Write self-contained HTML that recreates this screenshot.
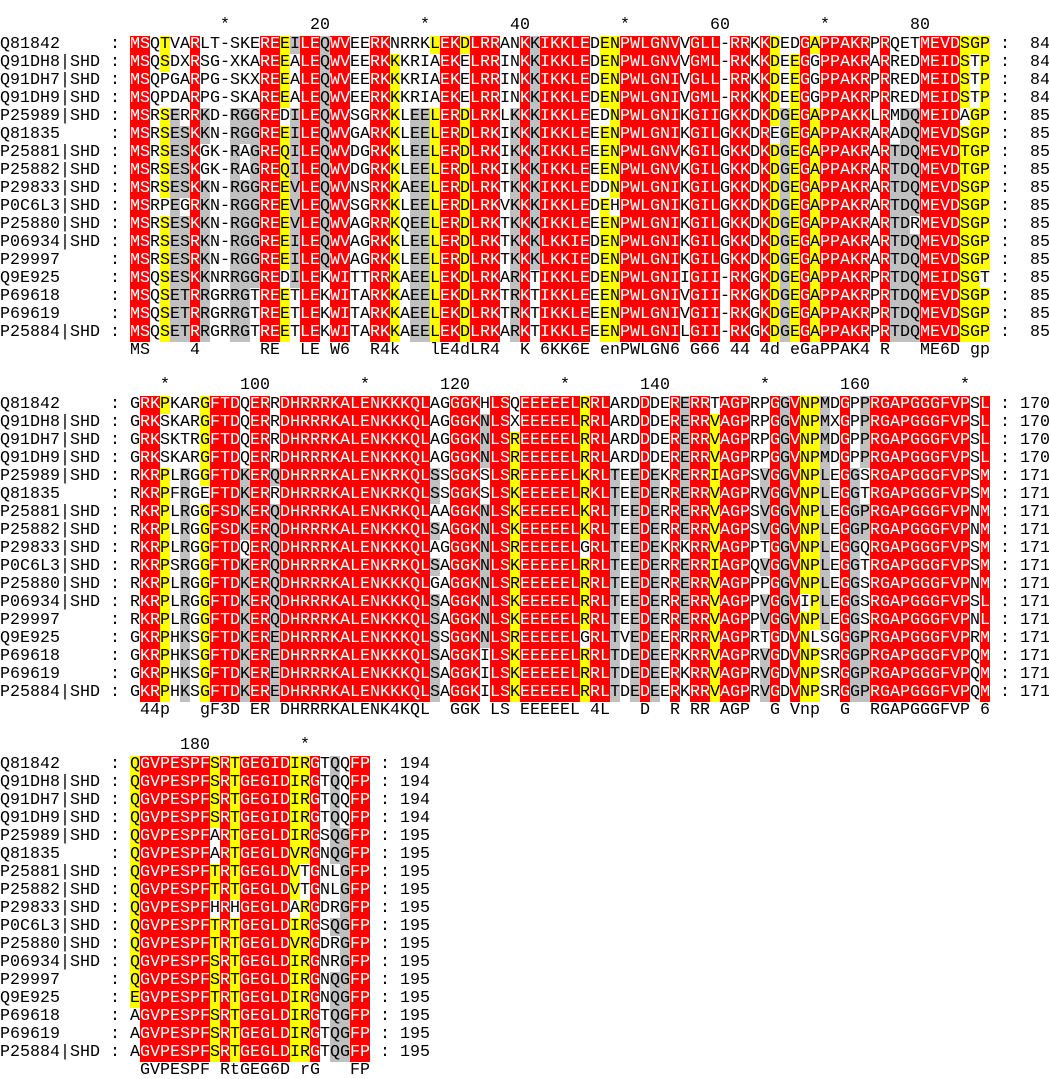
<!DOCTYPE html>
<html><head><meta charset="utf-8">
<style>
html,body{margin:0;padding:0;background:#fff;}
#c{position:relative;width:1049px;height:1079px;overflow:hidden;font-family:"Liberation Mono","DejaVu Sans Mono",monospace;font-size:16.67px;color:#000;}
#c div{position:absolute;height:18px;line-height:18px;white-space:pre;}
.r{background:#ff0000;color:#fff;}
.y{background:#ffff00;}
.g{background:#c0c0c0;}
</style></head><body><div id="c"></div>
<script>
var names=["Q81842","Q91DH8|SHD","Q91DH7|SHD","Q91DH9|SHD","P25989|SHD","Q81835","P25881|SHD","P25882|SHD","P29833|SHD","P0C6L3|SHD","P25880|SHD","P06934|SHD","P29997","Q9E925","P69618","P69619","P25884|SHD"];
var B1=[
"MSQTVARLT-SKEREEILEQWVEERKNRR"+"KLEKDLRRANKKIKKLEDENPWLGNVVGLL-R"+"RKKDEDGAPPAKRPRQETMEVDSGP",
"MSQSDXRSG-XKAREEALEQWVEERKKKR"+"IAEKELRRINKKIKKLEDENPWLGNVVGML-R"+"KKKDEEGGPPAKRARREDMEIDSTP",
"MSQPGARPG-SKXREEALEQWVEERKKKR"+"IAEKELRRINKKIKKLEDENPWLGNIVGLL-R"+"RKKDEEGGPPAKRPRREDMEIDSTP",
"MSQPDARPG-SKAREEALEQWVEERKKKR"+"IAEKELRRINKKIKKLEDENPWLGNIVGML-R"+"KKKDEEGGPPAKRPRREDMEIDSTP",
"MSRSERRKD-RGGREDILEQWVSGRKKLE"+"ELERDLRKLKKKIKKLEEDNPWLGNIKGIIGK"+"KDKDGEGAPPAKKLRMDQMEIDAGP",
"MSRSESKKN-RGGREEILEQWVGARKKLE"+"ELERDLRKIKKKIKKLEEENPWLGNIKGILGK"+"KDREGEGAPPAKRARADQMEVDSGP",
"MSRSESKGK-RAGREQILEQWVDGRKKLE"+"ELERDLRKIKKKIKKLEEENPWLGNVKGILGK"+"KDKDGEGAPPAKRARTDQMEVDTGP",
"MSRSESKGK-RAGREQILEQWVDGRKKLE"+"ELERDLRKIKKKIKKLEEENPWLGNVKGILGK"+"KDKDGEGAPPAKRARTDQMEVDTGP",
"MSRSESKKN-RGGREEVLEQWVNSRKKAE"+"ELERDLRKTKKKIKKLEDDNPWLGNIKGILGK"+"KDKDGEGAPPAKRARTDQMEVDSGP",
"MSRPEGRKN-RGGREEVLEQWVSGRKKLE"+"ELERDLRKVKKKIKKLEDEHPWLGNIKGILGK"+"KDKDGEGAPPAKRARTDQMEVDSGP",
"MSRSESKKN-RGGREEVLEQWVAGRRKQE"+"ELERDLRKTKKKIKKLEEENPWLGNIKGILGK"+"KDKDGEGAPPAKRARTDRMEVDSGP",
"MSRSESRKN-RGGREEILEQWVAGRKKLE"+"ELERDLRKTKKKLKKIEDENPWLGNIKGILGK"+"KDKDGEGAPPAKRARTDQMEVDSGP",
"MSRSESRKN-RGGREEILEQWVAGRKKLE"+"ELERDLRKTKKKLKKIEDENPWLGNIKGILGK"+"KDKDGEGAPPAKRARTDQMEVDSGP",
"MSQSESKKNRRGGREDILEKWITTRRKAE"+"ELEKDLRKARKTIKKLEDENPWLGNIIGII-R"+"KGKDGEGAPPAKRPRTDQMEIDSGT",
"MSQSETRRGRRGTREETLEKWITARKKAE"+"ELEKDLRKTRKTIKKLEEENPWLGNIVGII-R"+"KGKDGEGAPPAKRPRTDQMEVDSGP",
"MSQSETRRGRRGTREETLEKWITARKKAE"+"ELEKDLRKTRKTIKKLEEENPWLGNIVGII-R"+"KGKDGEGAPPAKRPRTDQMEVDSGP",
"MSQSETRRGRRGTREETLEKWITARKKAE"+"ELEKDLRKARKTIKKLEEENPWLGNILGII-R"+"KGKDGEGAPPAKRPRTDQMEVDSGP"];
var B2=[
"GRKPKARGFTDQERRDHRRRKALENKKKQ"+"LAGGGKHLSQEEEEELRRLARDDDERERRTAG"+"PRPGGVNPMDGPPRGAPGGGFVPSL",
"GRKSKARGFTDQERRDHRRRKALENKKKQ"+"LAGGGKNLSXEEEEELRRLARDDDERERRVAG"+"PRPGGVNPMXGPPRGAPGGGFVPSL",
"GRKSKTRGFTDQERRDHRRRKALENKKKQ"+"LAGGGKNLSREEEEELRRLARDDDERERRVAG"+"PRPGGVNPMDGPPRGAPGGGFVPSL",
"GRKSKARGFTDQERRDHRRRKALENKKKQ"+"LAGGGKNLSREEEEELRRLARDDDERERRVAG"+"PRPGGVNPMDGPPRGAPGGGFVPSL",
"RKRPLRGGFTDKERQDHRRRKALENKRKQ"+"LSSGGKSLSREEEEELKRLTEEDEKRERRIAG"+"PSVGGVNPLEGGSRGAPGGGFVPSM",
"RKRPFRGEFTDKERRDHRRRKALENKRKQ"+"LSSGGKSLSKEEEEELRKLTEEDERRERRVAG"+"PRVGGVNPLEGGTRGAPGGGFVPSM",
"RKRPLRGGFSDKERQDHRRRKALENKRKQ"+"LAAGGKNLSKEEEEELKRLTEEDERRERRVAG"+"PSVGGVNPLEGGPRGAPGGGFVPNM",
"RKRPLRGGFSDKERQDHRRRKALENKKKQ"+"LSAGGKNLSKEEEEELKRLTEEDERRERRVAG"+"PSVGGVNPLEGGPRGAPGGGFVPNM",
"RKRPLRGGFTDQERQDHRRRKALENKKKQ"+"LAGGGKNLSREEEEELGRLTEEDEKRKRRVAG"+"PPTGGVNPLEGGQRGAPGGGFVPSM",
"RKRPSRGGFTDKERQDHRRRKALENKRKQ"+"LSAGGKNLSKEEEEELRRLTEEDERRERRIAG"+"PQVGGVNPLEGGTRGAPGGGFVPSM",
"RKRPLRGGFTDKERQDHRRRKALENKKKQ"+"LGAGGKNLSREEEEELRRLTEEDERRERRVAG"+"PPPGGVNPLEGGSRGAPGGGFVPNM",
"RKRPLRGGFTDKERQDHRRRKALENKKKQ"+"LSAGGKNLSKEEEEELRRLTEEDERRERRVAG"+"PPVGGVIPLEGGSRGAPGGGFVPSL",
"RKRPLRGGFTDKERQDHRRRKALENKKKQ"+"LSAGGKNLSKEEEEELRRLTEEDERRERRVAG"+"PPVGGVNPLEGGSRGAPGGGFVPNL",
"GKRPHKSGFTDKEREDHRRRKALENKKKQ"+"LSSGGKNLSREEEEELGRLTVEDEERRRRVAG"+"PRTGDVNLSGGGPRGAPGGGFVPRM",
"GKRPHKSGFTDKEREDHRRRKALENKKKQ"+"LSAGGKILSKEEEEELRRLTDEDEERKRRVAG"+"PRVGDVNPSRGGPRGAPGGGFVPQM",
"GKRPHKSGFTDKEREDHRRRKALENKKKQ"+"LSAGGKILSKEEEEELRRLTDEDEERKRRVAG"+"PRVGDVNPSRGGPRGAPGGGFVPQM",
"GKRPHKSGFTDKEREDHRRRKALENKKKQ"+"LSAGGKILSKEEEEELRRLTDEDEERKRRVAG"+"PRVGDVNPSRGGPRGAPGGGFVPQM"];
var B3=["QGVPESPFSRTGEGIDIRGTQQFP","QGVPESPFSRTGEGIDIRGTQQFP","QGVPESPFSRTGEGIDIRGTQQFP","QGVPESPFSRTGEGIDIRGTQQFP",
"QGVPESPFARTGEGLDIRGSQGFP","QGVPESPFARTGEGLDVRGNQGFP","QGVPESPFTRTGEGLDVTGNLGFP","QGVPESPFTRTGEGLDVTGNLGFP",
"QGVPESPFHRHGEGLDARGDRGFP","QGVPESPFTRTGEGLDIRGSQGFP","QGVPESPFTRTGEGLDVRGDRGFP","QGVPESPFSRTGEGLDIRGNRGFP",
"QGVPESPFSRTGEGLDIRGNQGFP","EGVPESPFTRTGEGLDIRGNQGFP","AGVPESPFSRTGEGLDIRGTQGFP","AGVPESPFSRTGEGLDIRGTQGFP","AGVPESPFSRTGEGLDIRGTQGFP"];
var blocks=[
{s:B1,L:86,top:0,nums:[84,84,84,84,85,85,85,85,85,85,85,85,85,85,85,85,85],
 cons:[[1,"MS"],[7,"4"],[14,"RE"],[18,"LE"],[21,"W6"],[25,"R4k"],[31,"lE4dLR4"],[40,"K"],[42,"6KK6E"],[48,"enPWLGN6"],[57,"G66"],[61,"44"],[64,"4d"],[67,"eGaPPAK4"],[76,"R"],[80,"ME6D"],[85,"gp"]],
 head:[[10,"*"],[20,"20"],[30,"*"],[40,"40"],[50,"*"],[60,"60"],[70,"*"],[80,"80"]]},
{s:B2,L:86,top:360,nums:[170,170,170,170,171,171,171,171,171,171,171,171,171,171,171,171,171],
 cons:[[2,"44p"],[8,"gF3D"],[13,"ER"],[16,"DHRRRKALENK4KQ"],[30,"L"],[33,"GGK"],[37,"LS"],[40,"EEEEEL"],[47,"4L"],[52,"D"],[55,"R"],[57,"RR"],[60,"AGP"],[65,"G"],[67,"Vnp"],[72,"G"],[75,"RGAPGGGFVP"],[86,"6"]],
 head:[[4,"*"],[14,"100"],[24,"*"],[34,"120"],[44,"*"],[54,"140"],[64,"*"],[74,"160"],[84,"*"]]},
{s:B3,L:24,top:720,nums:[194,194,194,194,195,195,195,195,195,195,195,195,195,195,195,195,195],
 cons:[[2,"GVPESPF"],[10,"RtGEG6D"],[18,"rG"],[23,"FP"]],
 head:[[8,"180"],[18,"*"]]}];
var grp={K:"KR",R:"KR",S:"ST",T:"ST",I:"ILVM",L:"ILVM",V:"ILVM",M:"ILVM",E:"EQ",Q:"EQ",D:"DN",N:"DN",F:"FYW",Y:"FYW",W:"FYW"};
var C=document.getElementById("c");var h="";
function d(x,y,t,cls,w){h+='<div style="left:'+x+'px;top:'+y+'px'+(w?';width:'+w+'px':'')+'"'+(cls?' class="'+cls+'"':'')+'>'+t+'</div>';}
blocks.forEach(function(b){
 var n=17,cols=[];
 for(var c=0;c<b.L;c++){
  var best=null,bc=0;var cnt={};
  for(var i=0;i<n;i++){var ch=b.s[i][c]||'-';if(ch=='-')continue;var g=grp[ch]||ch;cnt[g]=(cnt[g]||0)+1;}
  for(var g in cnt){if(cnt[g]>bc){bc=cnt[g];best=g;}}
  var f=bc/n,cl=f>=1?"r":f>=0.8?"y":f>=0.56?"g":"";
  cols.push({g:best,cl:cl});
 }
 b.head.forEach(function(p){var x=130+(p[0]-p[1].length)*10;d(x,b.top+17,p[1]);});
 for(var i=0;i<n;i++){
  var y=b.top+36+18*i;
  d(0,y,names[i]);d(110,y,":");
  for(var c=0;c<b.L;c++){var ch=b.s[i][c]||'-';var col=cols[c];var cls="";
   if(ch!='-'&&col.cl&&(grp[ch]||ch)==col.g)cls=col.cl;
   d(130+c*10,y,ch,cls,10);}
  var ex=130+b.L*10;d(ex+10,y,":");var ns=String(b.nums[i]);d(ex+60-ns.length*10,y,ns);
 }
 b.cons.forEach(function(p){d(130+(p[0]-1)*10,b.top+342,p[1]);});
});
C.innerHTML=h;
</script></body></html>
